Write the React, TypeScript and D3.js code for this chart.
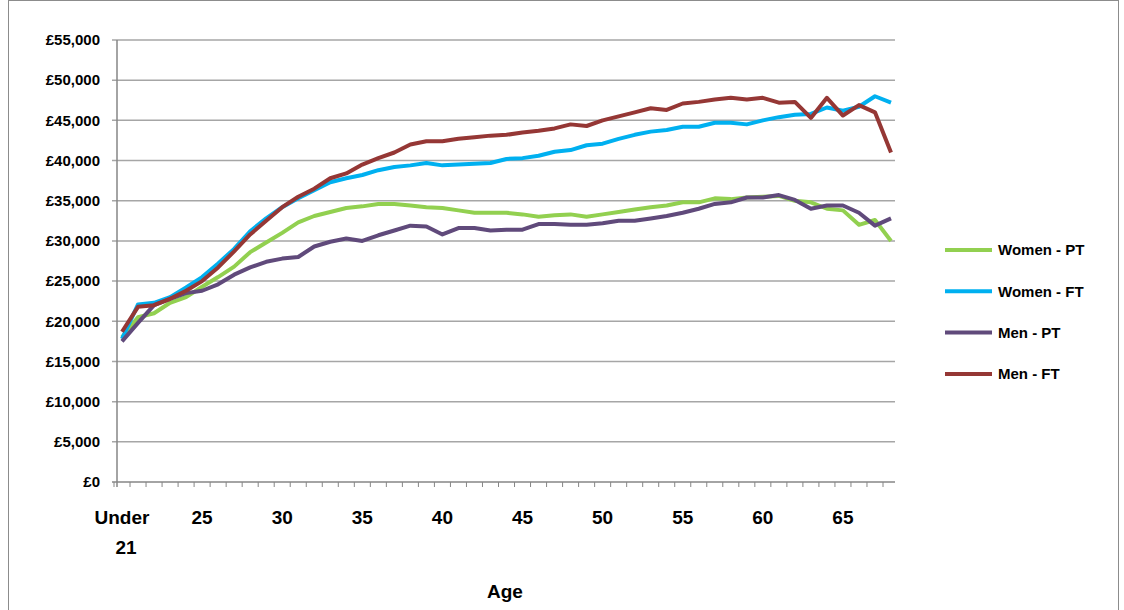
import * as d3 from "d3"

const ages = d3.range(20, 69)
const xTickAges = [25, 30, 35, 40, 45, 50, 55, 60, 65]
const yTicks = d3.range(0, 55001, 5000)

const womenPT = [18, 20.5, 21, 22.3, 23, 24.3, 25.5, 26.8, 28.6, 29.8, 31, 32.3, 33.1, 33.6, 34.1, 34.3, 34.6, 34.6, 34.4, 34.2, 34.1, 33.8, 33.5, 33.5, 33.5, 33.3, 33, 33.2, 33.3, 33, 33.3, 33.6, 33.9, 34.2, 34.4, 34.8, 34.8, 35.3, 35.2, 35.4, 35.5, 35.6, 35, 34.8, 34, 33.8, 32, 32.6, 30]
const womenFT = [17.8, 22.1, 22.3, 23, 24.2, 25.5, 27.2, 29, 31.2, 32.8, 34.2, 35.3, 36.3, 37.3, 37.8, 38.2, 38.8, 39.2, 39.4, 39.7, 39.4, 39.5, 39.6, 39.7, 40.2, 40.3, 40.6, 41.1, 41.3, 41.9, 42.1, 42.7, 43.2, 43.6, 43.8, 44.2, 44.2, 44.7, 44.7, 44.5, 45, 45.4, 45.7, 45.8, 46.6, 46.2, 46.7, 48, 47.2]
const menPT = [17.5, 19.8, 22, 22.8, 23.5, 23.8, 24.6, 25.8, 26.7, 27.4, 27.8, 28, 29.3, 29.9, 30.3, 30, 30.7, 31.3, 31.9, 31.8, 30.8, 31.6, 31.6, 31.3, 31.4, 31.4, 32.1, 32.1, 32, 32, 32.2, 32.5, 32.5, 32.8, 33.1, 33.5, 34, 34.6, 34.8, 35.4, 35.4, 35.7, 35.1, 34, 34.4, 34.4, 33.5, 31.9, 32.8]
const menFT = [18.7, 21.8, 22, 22.8, 23.8, 25, 26.7, 28.7, 30.8, 32.5, 34.2, 35.5, 36.5, 37.8, 38.4, 39.5, 40.3, 41, 42, 42.4, 42.4, 42.7, 42.9, 43.1, 43.2, 43.5, 43.7, 44, 44.5, 44.3, 45, 45.5, 46, 46.5, 46.3, 47.1, 47.3, 47.6, 47.8, 47.6, 47.8, 47.2, 47.3, 45.3, 47.8, 45.6, 46.9, 46, 41]

const series = [
  { name: "Women - PT", color: "#92d050", values: womenPT },
  { name: "Women - FT", color: "#00b0f0", values: womenFT },
  { name: "Men - PT", color: "#604a7b", values: menPT },
  { name: "Men - FT", color: "#953735", values: menFT },
]

export default function App() {
  const left = 117, right = 895, top = 40, bottom = 482
  const x = d3.scaleLinear().domain([20, 68]).range([left + 5, right - 4])
  const y = d3.scaleLinear().domain([0, 55000]).range([bottom, top])
  const line = d3.line<number>().x((_, i) => x(ages[i])).y(d => y(d * 1000))
  const fmt = (v: number) => "£" + d3.format(",")(v)
  const font = "'Liberation Sans', Arial, sans-serif"

  return (
    <svg width={1124} height={610} style={{ position: "absolute", left: 0, top: 0, fontFamily: font }}>
      <rect x={8.5} y={0.5} width={1110} height={620} fill="white" stroke="#8c8c8c" />
      {yTicks.map(t => (
        <g key={t}>
          <line x1={left - 5} x2={right} y1={y(t)} y2={y(t)} stroke={t === 0 ? "#868686" : "#a6a6a6"} strokeWidth={1.5} />
          <text x={100} y={y(t)} dy="0.35em" textAnchor="end" fontSize={15} fontWeight="bold">{fmt(t)}</text>
        </g>
      ))}
      <line x1={left} x2={left} y1={top} y2={bottom + 5} stroke="#868686" strokeWidth={1.5} />
      {ages.map(a => (
        <line key={a} x1={x(a) - 8} x2={x(a) - 8} y1={bottom} y2={bottom + 5} stroke="#868686" />
      ))}
      <text x={x(20)} y={524} textAnchor="middle" fontSize={19} fontWeight="bold">Under</text>
      <text x={x(20) + 4} y={554} textAnchor="middle" fontSize={19} fontWeight="bold">21</text>
      {xTickAges.map(a => (
        <text key={a} x={x(a)} y={524} textAnchor="middle" fontSize={19} fontWeight="bold">{a}</text>
      ))}
      <text x={505} y={598} textAnchor="middle" fontSize={19} fontWeight="bold">Age</text>
      {series.map(s => (
        <path key={s.name} d={line(s.values) ?? ""} fill="none" stroke={s.color} strokeWidth={4} strokeLinejoin="round" />
      ))}
      {series.map((s, i) => (
        <g key={s.name} transform={`translate(945,${250 + i * 41.3})`}>
          <line x1={0} x2={47} stroke={s.color} strokeWidth={4} />
          <text x={53} dy="0.35em" fontSize={15} fontWeight="bold">{s.name}</text>
        </g>
      ))}
    </svg>
  )
}
